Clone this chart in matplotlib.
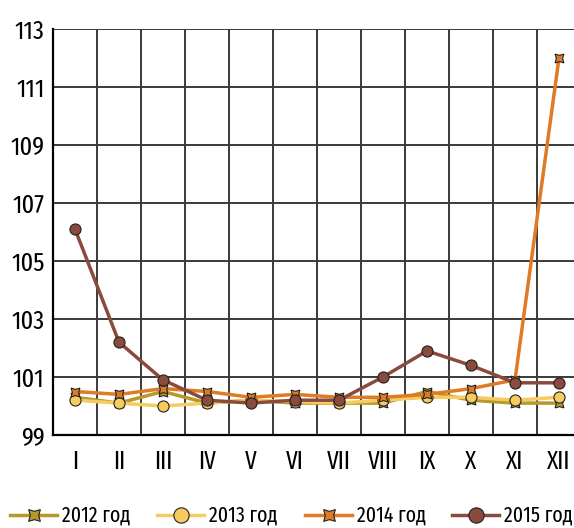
import numpy as np
import matplotlib.pyplot as plt
from matplotlib.lines import Line2D

plt.rcParams['font.family'] = ['Fira Sans Extra Condensed', 'DejaVu Sans']

months = ['I', 'II', 'III', 'IV', 'V', 'VI', 'VII', 'VIII', 'IX', 'X', 'XI', 'XII']
y2012 = [100.3, 100.1, 100.5, 100.1, 100.2, 100.1, 100.1, 100.1, 100.5, 100.2, 100.1, 100.1]
y2013 = [100.2, 100.1, 100.0, 100.1, 100.2, 100.15, 100.1, 100.2, 100.3, 100.3, 100.2, 100.3]
y2014 = [100.5, 100.4, 100.6, 100.5, 100.3, 100.4, 100.3, 100.3, 100.4, 100.6, 100.9, 112.0]
y2015 = [106.1, 102.2, 100.9, 100.2, 100.1, 100.2, 100.2, 101.0, 101.9, 101.4, 100.8, 100.8]
labels = ['2012 год', '2013 год', '2014 год', '2015 год']
colors = ['#B8982A', '#F6CC60', '#E07B25', '#8B4A3E']
yticks = [99, 101, 103, 105, 107, 109, 111, 113]

W, H = 574, 528
fig = plt.figure(figsize=(W / 100, H / 100), dpi=100)
ax = fig.add_axes([53 / W, 93 / H, 528 / W, 406 / H])

x = np.arange(1, 13)
star = (4, 1, 45)
series = [(y2012, star, 9), (y2013, 'o', 8), (y2014, star, 9), (y2015, 'o', 8)]
for (vals, m, ms), c, lab in zip(series, colors, labels):
    ax.plot(x, vals, color=c, lw=2.5, marker=m, ms=ms, mfc=c, mec='#222222',
            mew=0.8, label=lab, zorder=3)

ax.set_xlim(0.5, 12.5)
ax.set_ylim(99, 113)
ax.set_xticks(x)
ax.set_xticklabels(months)
ax.set_yticks(yticks)
ax.set_xticks(np.arange(0.5, 13, 1), minor=True)
ax.grid(True, axis='x', which='minor', color='#3a3a3a', lw=1.4)
ax.grid(True, axis='y', which='major', color='#3a3a3a', lw=1.4)
ax.grid(False, axis='x', which='major')
ax.tick_params(which='both', length=0)
ax.tick_params(axis='y', labelsize=19, pad=6)
ax.tick_params(axis='x', labelsize=18, pad=10)
for s in ['top', 'right']:
    ax.spines[s].set_visible(False)
ax.spines['left'].set_linewidth(1.6)
ax.spines['bottom'].set_linewidth(1.6)

# legend drawn by hand so the four entries sit where the reference has them
leg_x = [10, 157, 305, 452]
leg_y = 1 - 515 / H
for lx, (v, m, ms), c, lab in zip(leg_x, series, colors, labels):
    fig.add_artist(Line2D([lx / W, (lx + 47) / W], [leg_y, leg_y], color=c, lw=2.5))
    fig.add_artist(Line2D([(lx + 23.5) / W], [leg_y], marker=m, ms=ms + 3, mfc=c,
                          mec='#222222', mew=0.8, ls='none'))
    fig.text((lx + 52) / W, leg_y, lab, fontsize=15.5, va='center', ha='left')

fig.savefig('out.png', dpi=100)
